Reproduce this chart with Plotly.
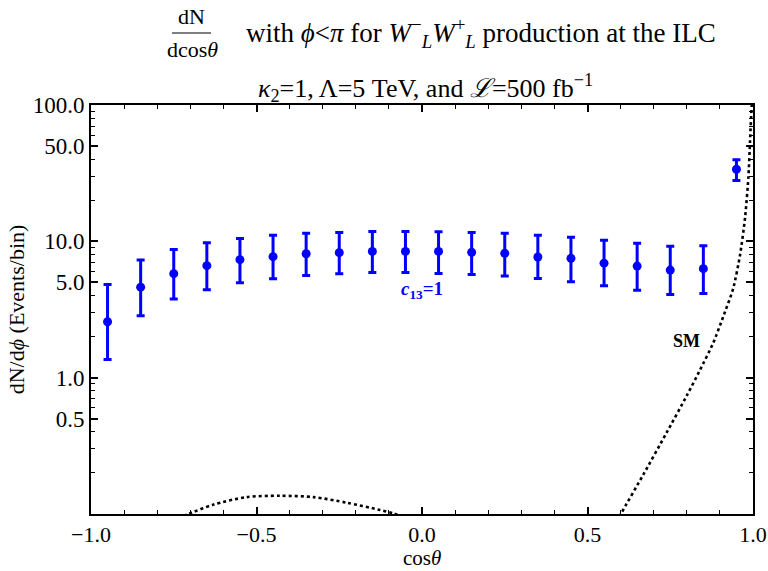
import plotly.graph_objects as go

# ---- data ----
bin_centers = [-0.95, -0.85, -0.75, -0.65, -0.55, -0.45, -0.35, -0.25, -0.15, -0.05,
               0.05, 0.15, 0.25, 0.35, 0.45, 0.55, 0.65, 0.75, 0.85, 0.95]
events = [2.57, 4.61, 5.79, 6.63, 7.34, 7.72, 8.11, 8.26, 8.44, 8.44,
          8.44, 8.30, 8.16, 7.67, 7.50, 6.92, 6.58, 6.15, 6.30, 33.8]
events_upper = [4.83, 7.29, 8.73, 9.78, 10.5, 11.07, 11.45, 11.6, 11.8, 11.8,
                11.78, 11.6, 11.45, 11.07, 10.7, 10.2, 9.7, 9.2, 9.3, 39.6]
events_lower = [1.36, 2.84, 3.77, 4.42, 4.97, 5.31, 5.62, 5.79, 5.90, 5.90,
                5.82, 5.72, 5.56, 5.34, 5.05, 4.72, 4.38, 4.08, 4.15, 27.9]

# SM curve (two visible pieces above the axis floor)
sm_x_left = [-0.72, -0.706, -0.631, -0.530, -0.429, -0.328, -0.227, -0.127, -0.087, -0.07]
sm_y_left = [0.097, 0.100, 0.117, 0.133, 0.136, 0.133, 0.121, 0.107, 0.101, 0.098]
sm_x_right = [0.59, 0.603, 0.669, 0.739, 0.800, 0.840, 0.880, 0.910, 0.940, 0.961,
              0.976, 0.986, 0.991, 0.996, 0.999]
sm_y_right = [0.087, 0.102, 0.195, 0.395, 0.738, 1.14, 1.80, 2.80, 4.49, 7.96,
              14.9, 29.2, 54.5, 99.0, 130.0]

x_tickvals = [-1.0, -0.5, 0.0, 0.5, 1.0]
x_ticktext = ["\u22121.0", "\u22120.5", "0.0", "0.5", "1.0"]
y_tickvals = [0.5, 1, 5, 10, 50, 100]
y_ticktext = ["0.5", "1.0", "5.0", "10.0", "50.0", "100.0"]
y_minor = [0.2, 0.3, 0.4, 0.6, 0.7, 0.8, 0.9, 2, 3, 4, 6, 7, 8, 9,
           20, 30, 40, 60, 70, 80, 90]

FONT = "Liberation Serif"
BLUE = "#0000FF"

err_plus = [u - c for u, c in zip(events_upper, events)]
err_minus = [c - l for c, l in zip(events, events_lower)]

fig = go.Figure()
fig.add_trace(go.Scatter(x=sm_x_left, y=sm_y_left,
                         mode="lines", line_shape="spline",
                         line=dict(color="black", width=2.6, dash="3px,3px", smoothing=0.8),
                         hoverinfo="skip", showlegend=False))
fig.add_trace(go.Scatter(x=sm_x_right, y=sm_y_right,
                         mode="lines", line_shape="spline",
                         line=dict(color="black", width=2.6, dash="3px,3px", smoothing=0.6),
                         hoverinfo="skip", showlegend=False))
fig.add_trace(go.Scatter(x=bin_centers, y=events, mode="markers",
                         marker=dict(color=BLUE, size=9),
                         error_y=dict(type="data", symmetric=False,
                                      array=err_plus, arrayminus=err_minus,
                                      color=BLUE, thickness=3, width=4),
                         showlegend=False))

fig.update_layout(
    width=768, height=571,
    margin=dict(l=91, r=15, t=105, b=57),
    paper_bgcolor="white", plot_bgcolor="white",
    font=dict(family=FONT, size=22, color="black"),
    showlegend=False,
)
fig.update_xaxes(range=[-1, 1], tickvals=x_tickvals, ticktext=x_ticktext,
                 ticks="inside", ticklen=7, tickwidth=1.5, tickcolor="black",
                 minor=dict(dtick=0.1, ticks="inside", ticklen=4, tickwidth=1, tickcolor="black"),
                 showline=True, linecolor="black", linewidth=2, mirror="allticks",
                 showgrid=False, zeroline=False, automargin=False,
                 tickfont=dict(size=22))
fig.update_yaxes(type="log", range=[-1, 2], tickvals=y_tickvals, ticktext=y_ticktext,
                 ticks="inside", ticklen=7, tickwidth=1.5, tickcolor="black",
                 minor=dict(tickvals=y_minor, ticks="inside", ticklen=4, tickwidth=1, tickcolor="black"),
                 showline=True, linecolor="black", linewidth=2, mirror="allticks",
                 showgrid=False, zeroline=False, automargin=False,
                 title=dict(text="dN/d<i>ϕ</i> (Events/bin)", font=dict(size=22), standoff=2),
                 tickfont=dict(size=23))

def px(xp):
    return (xp - 91) / 662.0

def py(yp):
    return (514 - yp) / 409.0

# x-axis title
fig.add_annotation(xref="paper", yref="paper", showarrow=False,
                   xanchor="center", yanchor="middle", x=px(422), y=py(558),
                   text="cos<i>θ</i>", font=dict(family=FONT, size=21, color="black"))

frac = [
    dict(text="dN", x=px(191), y=py(17)),
    dict(text="dcos<i>θ</i>", x=px(192), y=py(49)),
]
for a in frac:
    fig.add_annotation(xref="paper", yref="paper", showarrow=False,
                       xanchor="center", yanchor="middle",
                       font=dict(family=FONT, size=22, color="black"), **a)
fig.add_annotation(xref="paper", yref="paper", showarrow=False,
                   xanchor="center", yanchor="middle", x=px(425), y=py(88),
                   text="<i>κ</i><sub>2</sub>=1, Λ=5 TeV, and <i>ℒ</i>=500 fb<sup>−1</sup>",
                   font=dict(family=FONT, size=26, color="black"))
fig.add_annotation(xref="paper", yref="paper", showarrow=False,
                   xanchor="left", yanchor="middle", x=px(244), y=py(33),
                   text="with <i>ϕ</i>&lt;<i>π</i> for <i>W</i><sup>−</sup><sub><i>L</i></sub>"
                        "<i>W</i><sup>+</sup><sub><i>L</i></sub> production at the ILC",
                   font=dict(family=FONT, size=27, color="black"))
fig.add_shape(type="line", xref="paper", yref="paper",
              x0=px(172), x1=px(211), y0=py(33), y1=py(33),
              line=dict(color="black", width=1.2))

fig.add_annotation(x=0.0, y=0.645, xref="x", yref="y", showarrow=False,
                   text="<b><i>c</i><sub>13</sub>=1</b>",
                   font=dict(family=FONT, size=19, color=BLUE))
fig.add_annotation(x=0.798, y=0.271, xref="x", yref="y", showarrow=False,
                   text="<b>SM</b>",
                   font=dict(family=FONT, size=18, color="black"))

fig.write_html("out.html")
